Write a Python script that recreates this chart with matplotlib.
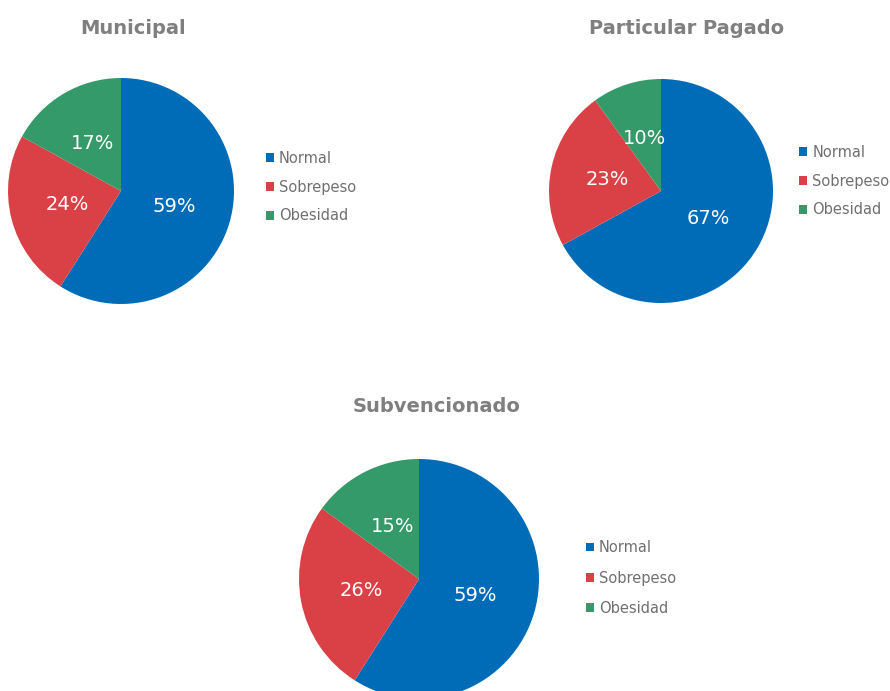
import matplotlib.pyplot as plt

plt.rcParams['font.family'] = ['DejaVu Sans']

# datos
categorias = ['Normal', 'Sobrepeso', 'Obesidad']
municipal = [59, 24, 17]
particular = [67, 23, 10]
subvencionado = [59, 26, 15]
titulos = ['Municipal', 'Particular Pagado', 'Subvencionado']

colores = ['#006CB7', '#DA4146', '#359A69']
W, H = 890, 691


def px_axes(fig, cx, cy, r):
    """axes cuadrado centrado en (cx, cy) en pixeles"""
    return fig.add_axes([(cx - r) / W, (H - cy - r) / H, 2 * r / W, 2 * r / H])


def dibujar_torta(fig, valores, titulo, cx, cy, r, tx, ty, lx, ly, esp):
    ax = px_axes(fig, cx, cy, r)
    wedges, _, autotexts = ax.pie(valores, colors=colores, startangle=90, counterclock=False,
                                  autopct='%1.0f%%', pctdistance=0.49, radius=1,
                                  textprops={'color': 'white', 'fontsize': 14})
    ax.set_xlim(-1, 1)
    ax.set_ylim(-1, 1)
    for w in wedges:
        w.set_clip_on(False)
    fig.text(tx / W, 1 - ty / H, titulo, ha='center', va='center',
             fontsize=14, fontweight='bold', color='#7F7F7F')
    fig.legend(wedges, categorias, loc='center left', bbox_to_anchor=(lx / W, 1 - ly / H),
               frameon=False, fontsize=10.5, labelcolor='#707070', handlelength=0.55,
               handleheight=0.55, handletextpad=0.35, labelspacing=esp, borderpad=0,
               borderaxespad=0)


fig = plt.figure(figsize=(W / 100, H / 100), dpi=100)

dibujar_torta(fig, municipal, titulos[0], 121, 191, 113, 133, 28, 266, 187, 0.95)
dibujar_torta(fig, particular, titulos[1], 661, 191, 112, 687, 28, 799, 181, 0.95)
dibujar_torta(fig, subvencionado, titulos[2], 419, 579, 120, 437, 407, 586, 578, 1.05)

fig.savefig('out.png', dpi=100)
